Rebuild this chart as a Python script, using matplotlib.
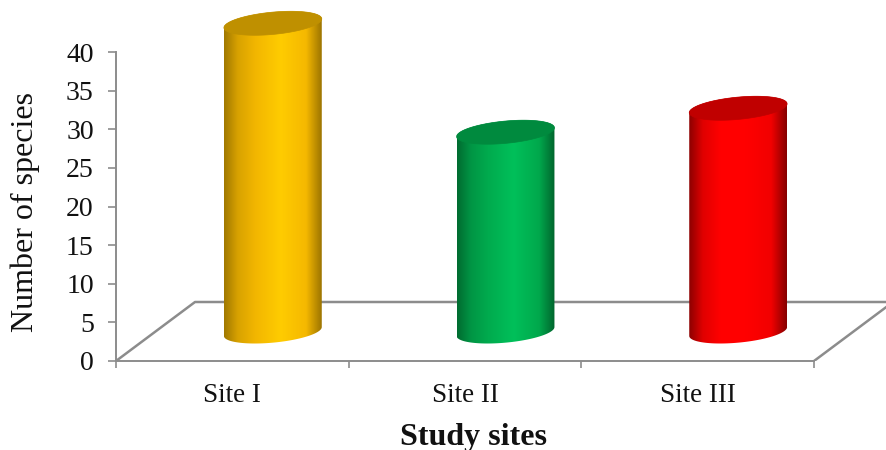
import matplotlib
matplotlib.use("Agg")
import matplotlib.pyplot as plt
from matplotlib.colors import LinearSegmentedColormap
from matplotlib.patches import Polygon
import numpy as np

sites = ["Site I", "Site II", "Site III"]
species = [39.9, 25.8, 28.9]
yticks = [0, 5, 10, 15, 20, 25, 30, 35, 40]

# shading across each cylinder, left edge to right edge
shade_stops = [0, 0.14, 0.32, 0.58, 0.84, 1]
bar_shades = [
    ["#a07800", "#d8a200", "#f2b600", "#ffcc00", "#f5b800", "#9c7400"],
    ["#006b30", "#009544", "#00ab4e", "#00c05a", "#00a84c", "#00652d"],
    ["#8c0000", "#e00000", "#ff0000", "#ff0000", "#f20000", "#860000"],
]
top_colors = ["#bf9000", "#008a3e", "#c00000"]

GREY = "#8c8c8c"

plt.rcParams["font.family"] = ["Liberation Serif", "DejaVu Serif"]

W, H = 886, 450
fig = plt.figure(figsize=(W / 100, H / 100), dpi=100)

# y=0 sits at pixel row 361, 40 at row 52, categories are 232.67 px wide
px_x = 232.67
px_y = 7.725
ax = fig.add_axes([116 / W, (H - 361) / H, 770 / W, 361 / H])
ax.set_xlim(0, 770 / px_x)
ax.set_ylim(0, 361 / px_y)

# floor of the 3D box
depth_x = 79 / px_x
depth_y = 59 / px_y
ax.plot([0, depth_x, 3 + depth_x], [0, depth_y, depth_y], color=GREY, lw=1.8, zorder=1)
ax.plot([3, 3 + depth_x], [0, depth_y], color=GREY, lw=1.8, zorder=1)

# skewed ellipse used for the caps of the cylinders
A, B, C = 45.5 / px_x, 18 / px_x, 12 / px_y
t0 = np.arctan2(B, A)


def ellipse(cx, cy, t):
    return cx + A * np.cos(t) + B * np.sin(t), cy + C * np.sin(t)


half_width = np.hypot(A, B)
for i, value in enumerate(species):
    cx = i + 0.5 + depth_x / 2 + 1 / px_x
    cy = depth_y / 2

    lower = np.linspace(t0 + np.pi, t0 + 2 * np.pi, 80)
    upper = np.linspace(t0, t0 + np.pi, 80)
    bx, by = ellipse(cx, cy, lower)
    tx, ty = ellipse(cx, cy + value, upper)
    body = Polygon(np.column_stack([np.r_[bx, tx], np.r_[by, ty]]), closed=True,
                   facecolor="none", edgecolor="none", zorder=2)
    ax.add_patch(body)

    cmap = LinearSegmentedColormap.from_list("shade", list(zip(shade_stops, bar_shades[i])))
    im = ax.imshow(np.linspace(0, 1, 256)[None, :], cmap=cmap, aspect="auto",
                   extent=[cx - half_width, cx + half_width, cy - 2, cy + value + 2],
                   zorder=2, interpolation="bilinear")
    im.set_clip_path(body)

    ex, ey = ellipse(cx, cy + value, np.linspace(0, 2 * np.pi, 160))
    ax.fill(ex, ey, color=top_colors[i], lw=0.5, zorder=3)

ax.set_xlim(0, 770 / px_x)
ax.set_ylim(0, 361 / px_y)

for side in ["top", "right"]:
    ax.spines[side].set_visible(False)
ax.spines["left"].set_bounds(0, 40)
ax.spines["bottom"].set_bounds(0, 3)
for side in ["left", "bottom"]:
    ax.spines[side].set_color(GREY)
    ax.spines[side].set_linewidth(1.4)

ax.set_yticks(yticks)
ax.set_xticks([0, 1, 2, 3])
ax.set_xticklabels([])
ax.set_xticks([0.5, 1.5, 2.5], labels=sites, minor=True)
ax.tick_params(axis="y", length=5.5, width=1.2, color=GREY, labelsize=20, pad=10.5, labelcolor="#111111")
ax.tick_params(axis="x", which="major", length=5, width=1.2, color=GREY)
ax.tick_params(axis="x", which="minor", length=0, labelsize=19.5, pad=16, labelcolor="#111111")

fig.text(25 / W, 1 - 212 / H, "Number of species", rotation=90, fontsize=23,
         ha="center", va="center", color="#111111")
fig.text(473 / W, 1 - 437 / H, "Study sites", fontsize=23, fontweight="bold",
         ha="center", va="center", color="#111111")

fig.savefig("out.png", dpi=100)
